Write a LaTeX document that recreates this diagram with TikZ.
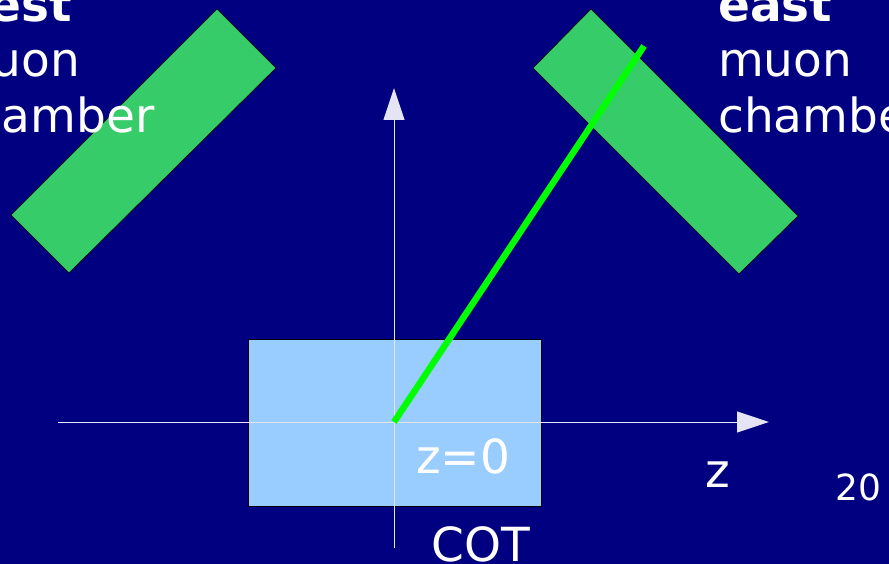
\documentclass[tikz,border=0pt]{standalone}
\usepackage{fontspec}
\setmainfont{DejaVu Sans}
\usetikzlibrary{arrows.meta}
\definecolor{bgnavy}{HTML}{000080}
\definecolor{chamberg}{HTML}{36CC6A}
\definecolor{cotblue}{HTML}{99CCFF}
\definecolor{trackg}{HTML}{00FF00}
\definecolor{axisw}{HTML}{E4E4F4}
\begin{document}
\begin{tikzpicture}[x=1pt,y=-1pt,
  lbl/.style={text=white,inner sep=0pt,anchor=base west,font=\fontsize{47}{56}\selectfont},
  boldlbl/.style={lbl,font=\fontsize{47}{56}\selectfont\bfseries},
  small/.style={text=white,inner sep=0pt,anchor=base west,font=\fontsize{36}{43}\selectfont},
  chamber/.style={fill=chamberg,draw=black,line width=0.6pt},
  axis/.style={draw=axisw,line width=1pt,-{Triangle[length=32pt,width=21pt]}},
  track/.style={draw=trackg,line width=6.5pt}]
\fill[bgnavy] (0,0) rectangle (889,564);
\useasboundingbox (0,0) rectangle (889,564);
\clip (0,0) rectangle (889,564);
% muon chambers
\filldraw[chamber] (217,9) -- (276,68) -- (69,273) -- (11,215) -- cycle;
\filldraw[chamber] (591,9) -- (798,216) -- (739,274) -- (533,68) -- cycle;
% COT
\node[draw=black,fill=cotblue,line width=0.6pt,minimum width=293pt,minimum height=167pt,inner sep=0pt,anchor=north west] (cot) at (248,339) {};
% axes
\coordinate (zs) at (58,422);
\coordinate (ze) at (769,422);
\coordinate (ys) at (394,548);
\coordinate (ye) at (394,88);
\coordinate (origin) at (394,422);
\coordinate (hit) at (644,46);
\draw[axis] (zs) -- (ze);
\draw[axis] (ys) -- (ye);
% track
\draw[track] (origin) -- (hit);
% labels
\node[boldlbl] (w1) at (-54,22) {west};
\node[lbl] (w2) at (-54,77) {muon};
\node[lbl] (w3) at (-54,133) {chamber};
\node[boldlbl] (e1) at (718,22) {east};
\node[lbl] (e2) at (718,77) {muon};
\node[lbl] (e3) at (718,133) {chamber};
\node[lbl] (z0) at (416,473) {z=0};
\node[lbl] (cotl) at (431,561) {COT};
\node[lbl] (zl) at (705,487) {z};
\node[small] (pg) at (835,500) {20};
\end{tikzpicture}
\end{document}
